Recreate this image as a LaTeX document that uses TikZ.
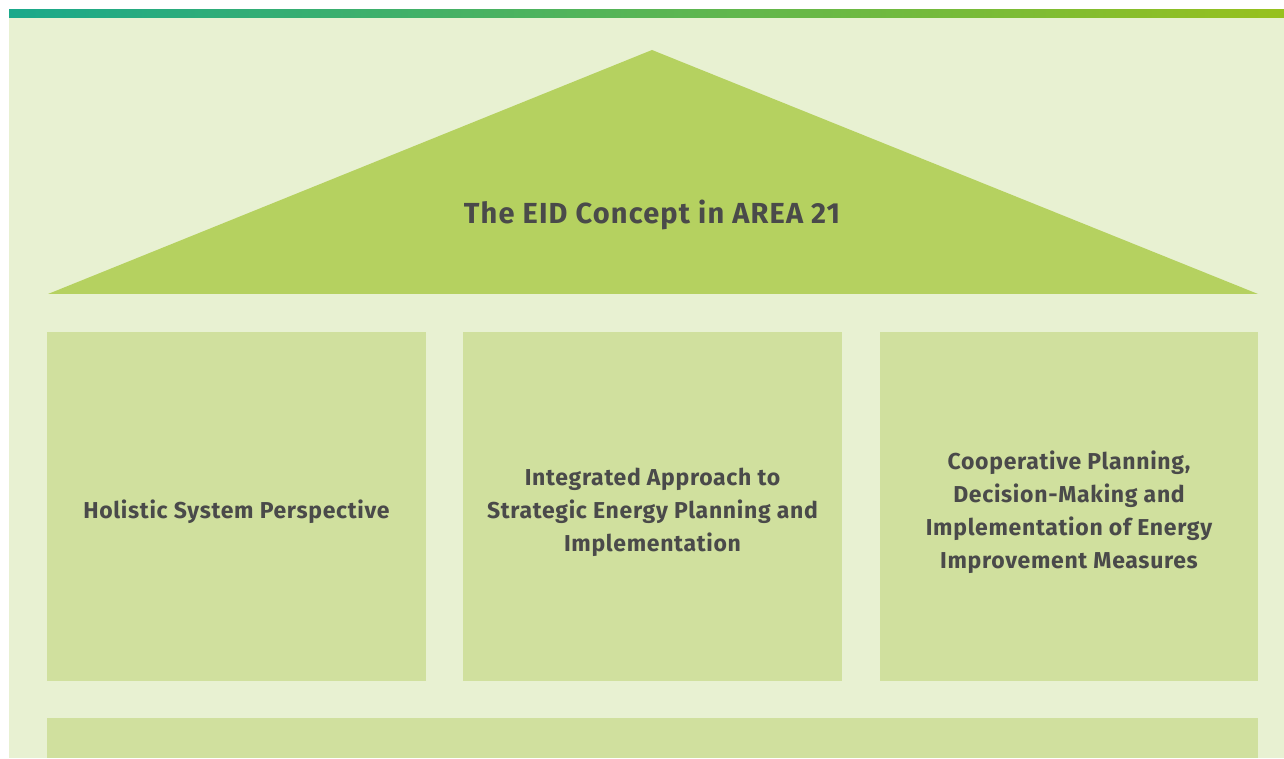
\documentclass[tikz,border=0pt]{standalone}
\usepackage{fontspec}
\setmainfont{Fira Sans}
\definecolor{bgc}{HTML}{E8F1D2}
\definecolor{roofc}{HTML}{B5D160}
\definecolor{boxc}{HTML}{D0E09E}
\definecolor{txtc}{HTML}{4A4A4A}
\definecolor{barl}{HTML}{1AA98B}
\definecolor{barr}{HTML}{97C11E}
\begin{document}
\begin{tikzpicture}[x=1pt,y=1pt,
  pillar/.style={fill=boxc,draw=none},
  lbl/.style={text=txtc,font=\fontsize{23}{33}\selectfont\bfseries\addfontfeatures{LetterSpace=3},align=center}]
\useasboundingbox (0,0) rectangle (1284,758);
\fill[white] (0,0) rectangle (1284,758);
\fill[bgc] (9,0) rectangle (1284,740);
\shade[left color=barl,right color=barr] (9,740) rectangle (1284,748);
\fill[roofc] (48,464) -- (652,708) -- (1258,464) -- cycle;
\node[text=txtc,font=\fontsize{29}{33}\selectfont\bfseries\addfontfeatures{LetterSpace=4}] (title) at (652,543) {The EID Concept in AREA 21};
\fill[pillar] (47,77) rectangle (426,426);
\fill[pillar] (463,77) rectangle (842,426);
\fill[pillar] (880,77) rectangle (1258,426);
\fill[pillar] (47,0) rectangle (1258,40);
\node[lbl] (p1) at (236.5,246) {Holistic System Perspective};
\node[lbl] (p2) at (652.5,246) {Integrated Approach to\\Strategic Energy Planning and\\Implementation};
\node[lbl] (p3) at (1069,246) {Cooperative Planning,\\Decision-Making and\\Implementation of Energy\\Improvement Measures};
\end{tikzpicture}
\end{document}
